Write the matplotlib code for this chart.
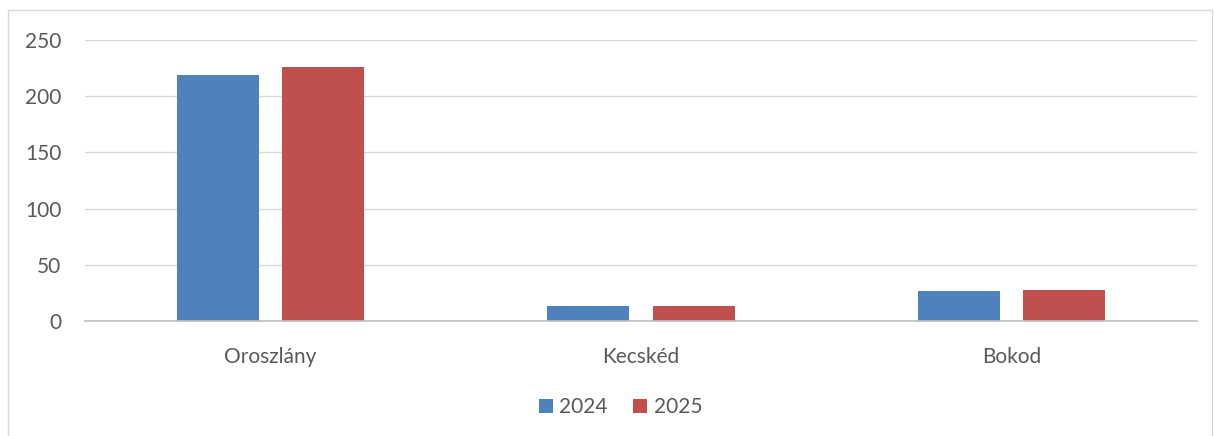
import numpy as np
import matplotlib.pyplot as plt
from matplotlib.patches import Rectangle

# Adatok
kategoriak = ['Oroszlány', 'Kecskéd', 'Bokod']
ertek_2024 = [219, 13, 27]
ertek_2025 = [226, 13, 28]
evek = ['2024', '2025']
szinek = ['#4f81bd', '#c0504d']
yticks = [0, 50, 100, 150, 200, 250]

plt.rcParams['font.family'] = ['Lato', 'DejaVu Sans']
szoveg = '#595959'

fig = plt.figure(figsize=(12.14, 4.36), dpi=100)
ax = fig.add_axes([0.070, 0.2638, 0.916, 0.6442])

x = np.arange(len(kategoriak))
w = 0.221
ax.bar(x - 0.142, ertek_2024, w, color=szinek[0], label=evek[0], zorder=3)
ax.bar(x + 0.142, ertek_2025, w, color=szinek[1], label=evek[1], zorder=3)

ax.set_xlim(-0.5, len(kategoriak) - 0.5)
ax.set_ylim(0, 250)
ax.set_yticks(yticks)
ax.set_xticks(x)
ax.set_xticklabels(kategoriak)
ax.tick_params(axis='both', length=0, labelsize=15, colors=szoveg)
ax.tick_params(axis='x', pad=19)
ax.tick_params(axis='y', pad=17)

ax.grid(axis='y', color='#d9d9d9', linewidth=1, zorder=0)
for s in ['top', 'right', 'left']:
    ax.spines[s].set_visible(False)
ax.spines['bottom'].set_color('#bfbfbf')
ax.spines['bottom'].set_linewidth(1.2)
ax.spines['bottom'].set_zorder(4)

fig.legend(loc='center', bbox_to_anchor=(0.511, 0.066), ncol=2, frameon=False,
           fontsize=15, labelcolor=szoveg, handlelength=0.7, handleheight=0.7,
           handletextpad=0.3, columnspacing=1.2)

# külső keret
fig.patches.append(Rectangle((8 / 1214, -0.05), (1212 - 8) / 1214, 1 - 10 / 436 + 0.05,
                             transform=fig.transFigure, fill=False,
                             edgecolor='#d9d9d9', linewidth=1))

fig.savefig('out.png', dpi=100)
